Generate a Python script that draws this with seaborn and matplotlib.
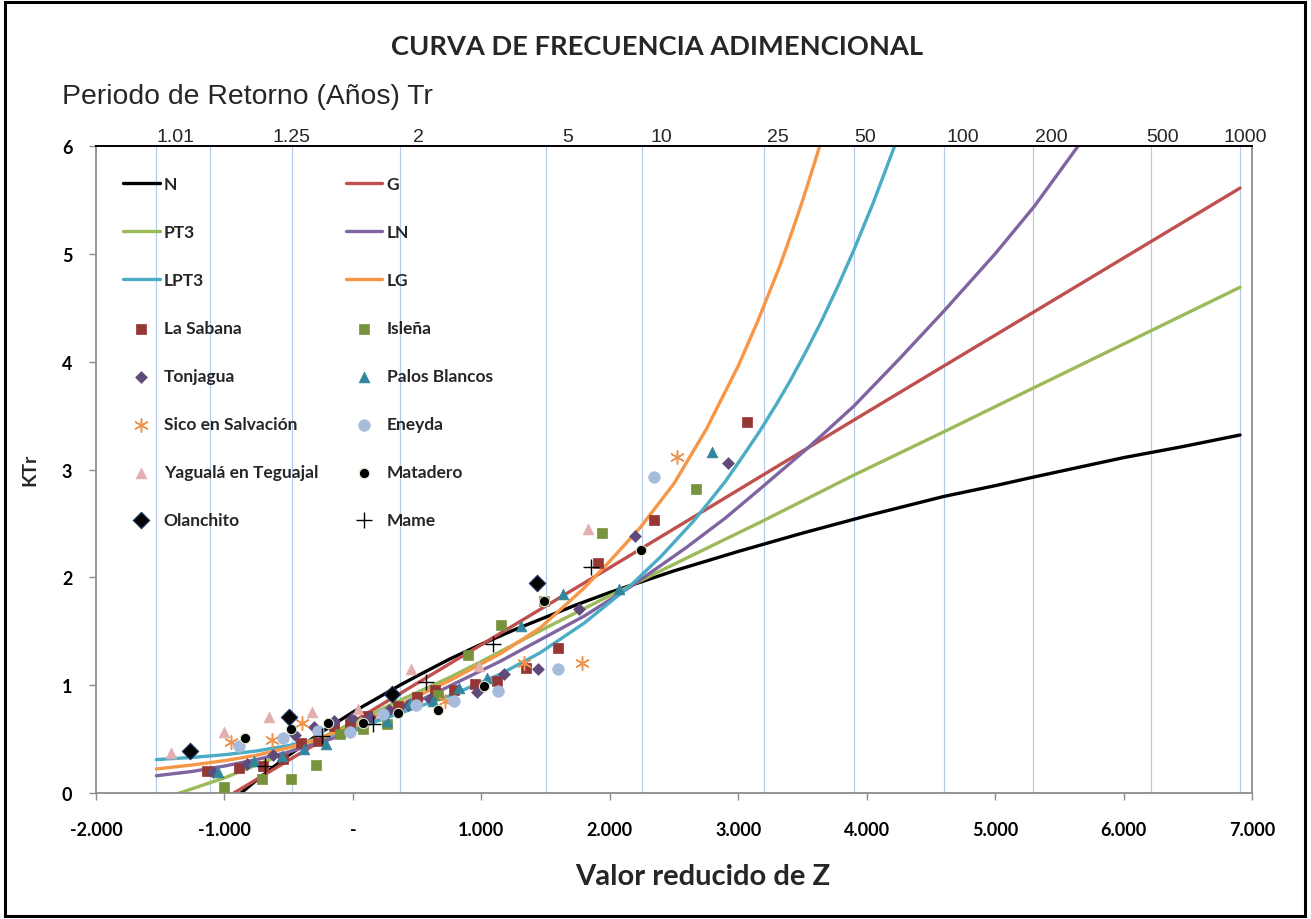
import numpy as np
import pandas as pd
import matplotlib
matplotlib.use("Agg")
import matplotlib.pyplot as plt
import seaborn as sns
from matplotlib.patches import Rectangle

# ---------------- data ----------------
# Frequency factor curves KTr against the Gumbel reduced variate Z
z_n = [-1.53, -1.2, -1.0, -0.85, -0.75, -0.5, -0.25, 0.0, 0.367, 0.5, 0.75, 1.0, 1.25,
       1.5, 1.75, 2.0, 2.5, 3.0, 3.5, 4.0, 4.3, 4.6, 5.0, 5.3, 5.65, 6.0, 6.45, 6.907]
k_n = [-0.75, -0.35, -0.13, 0.02, 0.12, 0.35, 0.56, 0.75, 1.00, 1.085, 1.24, 1.38, 1.51,
       1.63, 1.75, 1.86, 2.06, 2.24, 2.41, 2.57, 2.66, 2.75, 2.85, 2.93, 3.02, 3.11,
       3.21, 3.32]

z_g = [-1.53, 0.0, 2.0, 4.0, 6.907]
k_g = [-0.43, 0.66, 2.09, 3.53, 5.61]

z_pt3 = [-1.53, -1.35, -1.0, -0.75, -0.5, -0.25, 0.0, 0.367, 0.75, 1.0, 1.5, 2.0, 2.158,
         2.6, 3.17, 3.904, 4.602, 5.305, 6.219, 6.907]
k_pt3 = [-0.08, 0.0, 0.14, 0.26, 0.38, 0.51, 0.65, 0.86, 1.07, 1.22, 1.53, 1.83, 1.92,
         2.18, 2.51, 2.95, 3.35, 3.76, 4.29, 4.69]

z_ln = [-1.53, -1.25, -1.0, -0.75, -0.5, -0.25, 0.0, 0.367, 0.75, 1.145, 1.457, 1.8, 2.158,
        2.6, 2.9, 3.17, 3.533, 3.902, 4.25, 4.602, 5.0, 5.305, 5.622, 5.8]
k_ln = [0.16, 0.20, 0.25, 0.31, 0.38, 0.47, 0.57, 0.77, 0.99, 1.22, 1.42, 1.64, 1.91,
        2.28, 2.55, 2.82, 3.19, 3.59, 4.02, 4.47, 5.00, 5.44, 5.96, 6.25]

z_lpt3 = [-1.53, -1.25, -1.0, -0.75, -0.5, -0.25, 0.0, 0.367, 0.75, 1.145, 1.457, 1.8, 2.158,
          2.4, 2.651, 2.78, 2.9, 3.04, 3.17, 3.3, 3.403, 3.53, 3.65, 3.78, 3.902, 4.05,
          4.221, 4.4]
k_lpt3 = [0.31, 0.33, 0.355, 0.39, 0.44, 0.51, 0.59, 0.74, 0.90, 1.10, 1.30, 1.575, 1.92,
          2.195, 2.52, 2.71, 2.89, 3.13, 3.36, 3.61, 3.82, 4.10, 4.38, 4.71, 5.04, 5.47,
          6.01, 6.63]

z_lg = [-1.53, -1.25, -1.0, -0.75, -0.5, -0.25, 0.0, 0.367, 0.75, 1.145, 1.457, 1.8, 2.0,
        2.236, 2.5, 2.75, 3.0, 3.15, 3.325, 3.42, 3.5, 3.58, 3.65, 3.75]
k_lg = [0.223, 0.26, 0.30, 0.35, 0.42, 0.51, 0.62, 0.82, 1.04, 1.29, 1.53, 1.90, 2.15,
        2.46, 2.87, 3.37, 3.96, 4.37, 4.89, 5.21, 5.49, 5.79, 6.06, 6.47]

# Observed dimensionless flows at each station (Z, KTr)
sabana_z = [-1.138, -0.887, -0.697, -0.542, -0.404, -0.274, -0.145, -0.022, 0.108, 0.354,
            0.496, 0.639, 0.787, 0.951, 1.124, 1.348, 1.600, 1.911, 2.347, 3.066]
sabana_k = [0.207, 0.232, 0.253, 0.315, 0.464, 0.485, 0.618, 0.640, 0.717, 0.804,
            0.887, 0.955, 0.955, 1.011, 1.041, 1.156, 1.345, 2.133, 2.532, 3.443]

islena_z = [-1.003, -0.710, -0.482, -0.290, -0.100, 0.077, 0.263, 0.665, 0.899, 1.155,
            1.491, 1.942, 2.669]
islena_k = [0.053, 0.130, 0.130, 0.262, 0.547, 0.594, 0.640, 0.905, 1.283, 1.560,
            1.778, 2.408, 2.819]

tonjagua_z = [-1.092, -0.822, -0.620, -0.451, -0.303, -0.147, -0.009, 0.133, 0.284, 0.431,
              0.600, 0.964, 1.179, 1.439, 1.761, 2.196, 2.918]
tonjagua_k = [0.198, 0.269, 0.352, 0.541, 0.615, 0.671, 0.693, 0.708, 0.773, 0.819,
              0.872, 0.934, 1.104, 1.150, 1.706, 2.381, 3.058]

palos_z = [-1.048, -0.770, -0.554, -0.381, -0.212, 0.263, 0.445, 0.626, 0.826, 1.047,
           1.309, 1.633, 2.072, 2.799]
palos_k = [0.198, 0.300, 0.346, 0.408, 0.454, 0.671, 0.832, 0.856, 0.971, 1.063,
           1.552, 1.845, 1.892, 3.165]

sico_z = [-0.951, -0.632, -0.394, 0.717, 1.332, 1.781, 2.521]
sico_k = [0.470, 0.494, 0.646, 0.856, 1.203, 1.203, 3.113]

eneyda_z = [-0.887, -0.542, -0.269, -0.022, 0.232, 0.491, 0.787, 1.132, 1.600, 2.347]
eneyda_k = [0.439, 0.510, 0.578, 0.569, 0.733, 0.819, 0.850, 0.949, 1.150, 2.933]

yaguala_z = [-1.418, -1.001, -0.651, -0.316, 0.042, 0.453, 0.985, 1.828]
yaguala_k = [0.371, 0.563, 0.702, 0.754, 0.779, 1.150, 1.180, 2.448]

matadero_z = [-0.840, -0.484, -0.192, 0.077, 0.354, 0.665, 1.021, 1.491, 2.243]
matadero_k = [0.507, 0.594, 0.649, 0.649, 0.745, 0.767, 0.995, 1.778, 2.257]

olanchito_z = [-1.268, -0.497, 0.305, 1.436]
olanchito_k = [0.392, 0.702, 0.918, 1.945]

mame_z = [-0.684, -0.243, 0.159, 0.570, 1.088, 1.857]
mame_k = [0.253, 0.531, 0.640, 1.027, 1.382, 2.098]

# Return periods marked on the upper scale
return_periods = [1.01, 1.05, 1.25, 2, 5, 10, 25, 50, 100, 200, 500, 1000]
period_labels = ["1.01", "1.25", "2", "5", "10", "25", "50", "100", "200", "500", "1000"]

x_ticks = [-2, -1, 0, 1, 2, 3, 4, 5, 6, 7]
x_tick_labels = ["-2.000", "-1.000", "-", "1.000", "2.000", "3.000", "4.000", "5.000",
                 "6.000", "7.000"]
y_ticks = [0, 1, 2, 3, 4, 5, 6]

# ---------------- layout ----------------
period_label_x = [-1.38, -0.48, 0.51, 1.67, 2.40, 3.31, 3.99, 4.75, 5.44, 6.30, 6.95]

sns.set_theme(style="white")
plt.rcParams["font.family"] = ["Lato", "DejaVu Sans"]

fig = plt.figure(figsize=(13.11, 9.2), dpi=100)
ax = fig.add_axes([96 / 1311, 1 - 794 / 920, (1252 - 96) / 1311, (794 - 147) / 920])

# vertical guide lines at the return periods
for T in return_periods:
    zr = -np.log(-np.log(1 - 1 / T))
    ax.axvline(zr, color="#B3C9E8", lw=0.85, zorder=0)

curves = [
    ("N", z_n, k_n, "#000000"),
    ("G", z_g, k_g, "#C0504D"),
    ("PT3", z_pt3, k_pt3, "#9BBB59"),
    ("LN", z_ln, k_ln, "#8064A2"),
    ("LPT3", z_lpt3, k_lpt3, "#4BACC6"),
    ("LG", z_lg, k_lg, "#F79646"),
]
for name, zz, kk, col in curves:
    sns.lineplot(x=zz, y=kk, color=col, lw=2.4, label=name, ax=ax,
                 estimator=None, sort=True, zorder=2)

stations = [
    ("La Sabana", sabana_z, sabana_k, "s", "#953735", 55, "#953735", 0.5),
    ("Isleña", islena_z, islena_k, "s", "#77933C", 55, "#77933C", 0.5),
    ("Tonjagua", tonjagua_z, tonjagua_k, "D", "#604A7B", 36, "#604A7B", 0.5),
    ("Palos Blancos", palos_z, palos_k, "^", "#31859C", 60, "#31859C", 0.5),
    ("Sico en Salvación", sico_z, sico_k, (6, 2, 0), "#EC9450", 95, None, 1.1),
    ("Eneyda", eneyda_z, eneyda_k, "o", "#A6BCDD", 70, "#A6BCDD", 0.5),
    ("Yagualá en Teguajal", yaguala_z, yaguala_k, "^", "#E3AFAE", 60, "#E3AFAE", 0.5),
    ("Matadero", matadero_z, matadero_k, "o", "#000000", 55, "#DCE6C8", 0.8),
    ("Olanchito", olanchito_z, olanchito_k, "D", "#050505", 70, "#1F3864", 0.8),
    ("Mame", mame_z, mame_k, "+", "#000000", 120, None, 1.0),
]
for name, zz, kk, mk, col, size, edge, lw in stations:
    kws = dict(x=zz, y=kk, marker=mk, color=col, s=size, linewidth=lw,
               label=name, ax=ax, zorder=3)
    if edge is not None:
        kws["edgecolor"] = edge
    sns.scatterplot(**kws)

ax.set_xlim(-2, 7)
ax.set_ylim(0, 6)
ax.set_xticks(x_ticks)
ax.set_xticklabels(x_tick_labels)
ax.set_yticks(y_ticks)
ax.set_yticklabels([str(v) for v in y_ticks])
ax.set_xlabel("")
ax.set_ylabel("")
for lab in ax.get_xticklabels() + ax.get_yticklabels():
    lab.set_fontweight("bold")
    lab.set_fontsize(13)
    lab.set_color("black")
ax.tick_params(axis="x", direction="out", length=5, width=1, color="#8C8C8C", pad=15,
               bottom=True)
ax.tick_params(axis="y", direction="out", length=5, width=1, color="#8C8C8C", pad=12,
               left=True)
for side in ["left", "bottom", "right"]:
    ax.spines[side].set_color("#8C8C8C")
    ax.spines[side].set_linewidth(1.3)
ax.spines["top"].set_color("black")
ax.spines["top"].set_linewidth(1.4)

# return period labels along the upper edge
for lab, xl in zip(period_labels, period_label_x):
    ax.annotate(lab, xy=(xl, 6), xycoords="data", xytext=(0, 0.5),
                textcoords="offset points", ha="center", va="bottom",
                fontsize=14, family=["Liberation Sans", "DejaVu Sans"],
                annotation_clip=False)

# legend: two columns, filled row by row
handles, labels = ax.get_legend_handles_labels()
order = list(range(0, len(labels), 2)) + list(range(1, len(labels), 2))
leg = ax.legend([handles[i] for i in order], [labels[i] for i in order], ncol=2,
                loc="upper left", bbox_to_anchor=(0.0234, 0.953), frameon=False,
                borderpad=0, borderaxespad=0, handlelength=2.1, handletextpad=0.25,
                columnspacing=1.6, labelspacing=1.84, scatterpoints=1,
                prop={"weight": "bold", "size": 12.5})

fig.text(657 / 1311, 1 - 47 / 920, "CURVA DE FRECUENCIA ADIMENCIONAL", ha="center",
         va="center", fontsize=19.6, fontweight="bold")
fig.text(62 / 1311, 1 - 97 / 920, "Periodo de Retorno (Años) Tr", ha="left",
         va="center", fontsize=20.4, family=["Liberation Sans", "DejaVu Sans"])
fig.text(703 / 1311, 1 - 877 / 920, "Valor reducido de Z", ha="center", va="center",
         fontsize=21, fontweight="bold")
fig.text(30 / 1311, 1 - 470 / 920, "KTr", ha="center", va="center", rotation=90,
         fontsize=14, fontweight="bold")

# outer frame
fig.patches.append(Rectangle((5 / 1311, 3 / 920), 1300 / 1311, 914 / 920,
                             transform=fig.transFigure, fill=False,
                             edgecolor="black", lw=2.2))

fig.savefig("out.png", dpi=100)
